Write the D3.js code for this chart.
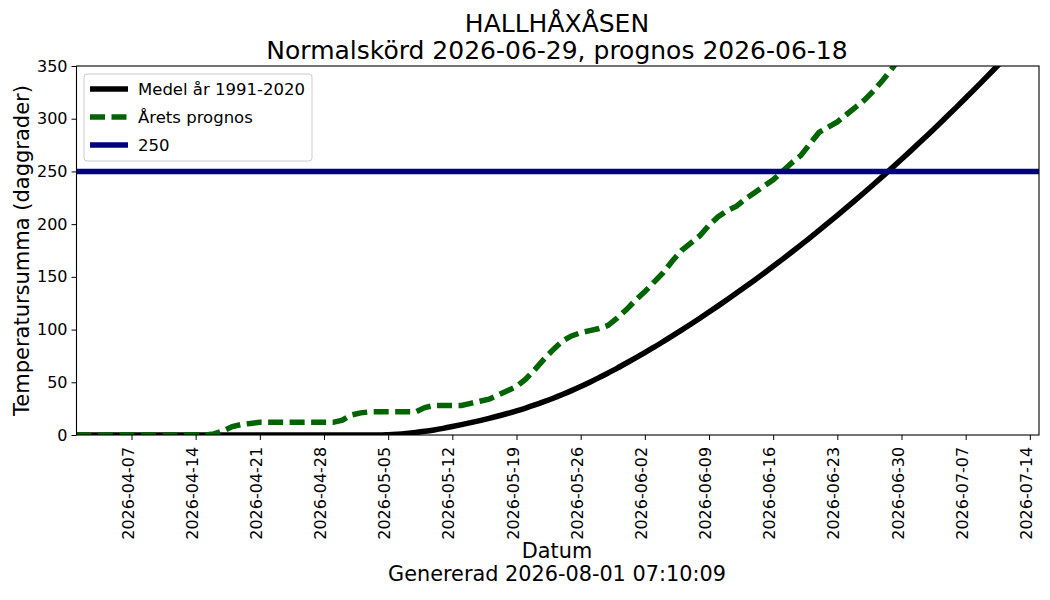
<!DOCTYPE html>
<html>
<head>
<meta charset="utf-8">
<script src="https://cdn.jsdelivr.net/npm/d3@7"></script>
<style>
  body { margin: 0; background: #fff; }
  text { font-family: "DejaVu Sans", sans-serif; fill: #000; }
</style>
</head>
<body>
<div id="chart"></div>
<script>
// data (one value per day from startDate)
var startDate = "2026-04-01";
var endDate = "2026-07-15";
var normalValues = [
  0, 0, 0, 0, 0, 0, 0, 0, 0, 0, 0, 0, 0, 0, 0, 0, 0, 0, 0, 0,
  0, 0, 0, 0, 0, 0, 0, 0, 0, 0, 0, 0, 0, 0, 0.3, 0.8, 1.5, 2.4, 3.5, 4.8,
  6.3, 8, 9.8, 11.7, 13.7, 15.8, 18, 20.4, 22.9, 25.6, 28.5, 31.6, 34.9, 38.4, 42.1, 46, 50.1, 54.4, 58.9, 63.5,
  68.3, 73.2, 78.2, 83.3, 88.6, 94, 99.5, 105.1, 110.8, 116.6, 122.5, 128.5, 134.6, 140.8, 147.1, 153.5, 160, 166.6, 173.3, 180.1,
  187, 194, 201.1, 208.3, 215.6, 223, 230.5, 238.1, 245.8, 253.6, 261.5, 269.5, 277.6, 285.8, 294.1, 302.5, 311, 319.6, 328.3, 337.1,
  346, 355, 364.1, 373.3, 382.6, 392
];
var forecastValues = [
  0, 0, 0, 0, 0, 0, 0, 0, 0, 0, 0, 0, 0, 0, 0, 1, 4, 8, 10, 11,
  12, 12, 12, 12, 12, 12, 12, 12, 12, 14, 19, 21, 22, 22, 22, 22, 22, 22, 26, 28,
  28, 28, 28, 30, 32, 34, 38, 42, 46, 53, 62, 72, 81, 89, 94, 97, 99, 101, 104, 111,
  119, 128, 136, 145, 154, 165, 175, 182, 189, 199, 207, 213, 217, 224, 230, 236, 242, 250, 258, 265,
  276, 287, 292, 297, 304, 311, 318, 327, 337, 348, 360, 372
];
var thresholdValue = 250;
var tickDates = ["2026-04-07", "2026-04-14", "2026-04-21", "2026-04-28", "2026-05-05", "2026-05-12",
  "2026-05-19", "2026-05-26", "2026-06-02", "2026-06-09", "2026-06-16", "2026-06-23",
  "2026-06-30", "2026-07-07", "2026-07-14"];
var yTicks = [0, 50, 100, 150, 200, 250, 300, 350];
var seriesNames = ["Medel år 1991-2020", "Årets prognos", "250"];
var titleLines = ["HALLHÅXÅSEN", "Normalskörd 2026-06-29, prognos 2026-06-18"];
var xLabelLines = ["Datum", "Genererad 2026-08-01 07:10:09"];
var yLabel = "Temperatursumma (daggrader)";

var W = 1050, H = 600;
var margin = { left: 76.5, right: 11, top: 66, bottom: 165 };
var parse = d3.utcParse("%Y-%m-%d");
var fmt = d3.utcFormat("%Y-%m-%d");

var svg = d3.select("#chart").append("svg")
  .attr("width", W).attr("height", H);

var x = d3.scaleUtc()
  .domain([parse(startDate), parse(endDate)])
  .range([margin.left, W - margin.right]);
var y = d3.scaleLinear()
  .domain([0, 350])
  .range([H - margin.bottom, margin.top]);

var toPoints = vals => vals.map((v, i) => [d3.utcDay.offset(parse(startDate), i), v]);

svg.append("clipPath").attr("id", "clip")
  .append("rect")
  .attr("x", x.range()[0]).attr("y", y.range()[1])
  .attr("width", x.range()[1] - x.range()[0])
  .attr("height", y.range()[0] - y.range()[1]);

var line = d3.line().x(d => x(d[0])).y(d => y(d[1]));
var plot = svg.append("g").attr("clip-path", "url(#clip)");

plot.append("path")
  .datum(toPoints(normalValues))
  .attr("d", line.curve(d3.curveMonotoneX))
  .attr("fill", "none").attr("stroke", "#000").attr("stroke-width", 5.5)
  .attr("stroke-linejoin", "round");

plot.append("path")
  .datum(toPoints(forecastValues))
  .attr("d", line.curve(d3.curveLinear))
  .attr("fill", "none").attr("stroke", "#006400").attr("stroke-width", 5.5)
  .attr("stroke-dasharray", "15,6.5");

plot.append("line")
  .attr("x1", x.range()[0]).attr("x2", x.range()[1])
  .attr("y1", y(thresholdValue)).attr("y2", y(thresholdValue))
  .attr("stroke", "#000080").attr("stroke-width", 5.5);

// axes
var xAxis = svg.append("g")
  .attr("transform", `translate(0,${y.range()[0]})`)
  .call(d3.axisBottom(x).tickValues(tickDates.map(parse)).tickFormat(fmt).tickSizeOuter(0).tickSize(5));
xAxis.selectAll("text")
  .attr("font-size", 16)
  .attr("transform", "rotate(-90)")
  .attr("text-anchor", "end")
  .attr("dx", "-0.55em").attr("dy", "-0.25em")
  .attr("y", 0).attr("x", -3)
  .attr("dominant-baseline", "central");
xAxis.select(".domain").remove();

var yAxis = svg.append("g")
  .attr("transform", `translate(${x.range()[0]},0)`)
  .call(d3.axisLeft(y).tickValues(yTicks).tickSizeOuter(0).tickSize(5).tickPadding(4));
yAxis.selectAll("text").attr("font-size", 16);
yAxis.select(".domain").remove();
svg.selectAll(".tick line").attr("stroke", "#000");

svg.append("rect")
  .attr("x", x.range()[0]).attr("y", y.range()[1])
  .attr("width", x.range()[1] - x.range()[0])
  .attr("height", y.range()[0] - y.range()[1])
  .attr("fill", "none").attr("stroke", "#000").attr("stroke-width", 1.1);

// titles
svg.append("text").attr("x", 557).attr("y", 32).attr("text-anchor", "middle")
  .attr("font-size", 25).text(titleLines[0]);
svg.append("text").attr("x", 557).attr("y", 59).attr("text-anchor", "middle")
  .attr("font-size", 25).text(titleLines[1]);

svg.append("text").attr("x", 557).attr("y", 558).attr("text-anchor", "middle")
  .attr("font-size", 20.8).text(xLabelLines[0]);
svg.append("text").attr("x", 557).attr("y", 581).attr("text-anchor", "middle")
  .attr("font-size", 20.8).text(xLabelLines[1]);

svg.append("text")
  .attr("transform", `translate(29,${(y.range()[0] + y.range()[1]) / 2}) rotate(-90)`)
  .attr("text-anchor", "middle")
  .attr("font-size", 21).text(yLabel);

// legend
var legend = svg.append("g").attr("transform", "translate(84,74)");
legend.append("rect")
  .attr("width", 228).attr("height", 87).attr("rx", 3)
  .attr("fill", "#fff").attr("fill-opacity", 0.8)
  .attr("stroke", "#ccc").attr("stroke-width", 1);
var legendStyles = [
  { color: "#000", dash: null },
  { color: "#006400", dash: "15,6.5" },
  { color: "#000080", dash: null }
];
seriesNames.forEach((name, i) => {
  var yy = 15 + i * 28;
  legend.append("line")
    .attr("x1", 6).attr("x2", 44).attr("y1", yy).attr("y2", yy)
    .attr("stroke", legendStyles[i].color).attr("stroke-width", 5.5)
    .attr("stroke-dasharray", legendStyles[i].dash);
  legend.append("text").attr("x", 54).attr("y", yy)
    .attr("dominant-baseline", "central")
    .attr("font-size", 16.5).text(name);
});
</script>
</body>
</html>
